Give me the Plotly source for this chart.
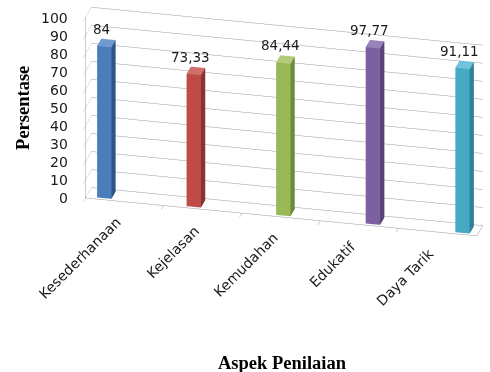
import plotly.graph_objects as go

# Data
categories = ["Kesederhanaan", "Kejelasan", "Kemudahan", "Edukatif", "Daya Tarik"]
values = [84, 73.33, 84.44, 97.77, 91.11]
value_labels = ["84", "73,33", "84,44", "97,77", "91,11"]
z_ticks = [0, 10, 20, 30, 40, 50, 60, 70, 80, 90, 100]

# Office-style palette: front face, side face, top face
front_colors = ["#4A7EBB", "#BE4B48", "#98B954", "#7D60A0", "#46AAC5"]
side_colors = ["#2F5485", "#8A3331", "#6E8A3A", "#5A4477", "#2F8299"]
top_colors = ["#6F9AD0", "#D06E6B", "#B2CD7A", "#9A82BA", "#72C2D8"]

X_MIN, X_MAX = -0.2, 4.17
Y_MIN, Y_MAX = 0.0, 1.0
HALF_W = 0.08
DEPTH = (0.15, 0.85)

GRID = "#9C9C9C"
TEXT_FONT = "DejaVu Sans"


def box_mesh(xc, height, front, side, top):
    x0, x1 = xc - HALF_W, xc + HALF_W
    y0, y1 = DEPTH
    z0, z1 = 0, height
    xs = [x0, x1, x1, x0, x0, x1, x1, x0]
    ys = [y0, y0, y1, y1, y0, y0, y1, y1]
    zs = [z0, z0, z0, z0, z1, z1, z1, z1]
    tris = [
        (0, 1, 5), (0, 5, 4),   # front
        (1, 2, 6), (1, 6, 5),   # right side
        (4, 5, 6), (4, 6, 7),   # top
        (2, 3, 7), (2, 7, 6),   # back
        (3, 0, 4), (3, 4, 7),   # left side
        (0, 3, 2), (0, 2, 1),   # bottom
    ]
    cols = [front, front, side, side, top, top, side, side, side, side, side, side]
    return go.Mesh3d(
        x=xs, y=ys, z=zs,
        i=[t[0] for t in tris], j=[t[1] for t in tris], k=[t[2] for t in tris],
        facecolor=cols, flatshading=True,
        lighting=dict(ambient=1, diffuse=0, specular=0, roughness=1, fresnel=0),
        hoverinfo="skip", showscale=False,
    )


fig = go.Figure()
for idx, v in enumerate(values):
    fig.add_trace(box_mesh(idx, v, front_colors[idx], side_colors[idx], top_colors[idx]))

# category slots along the floor's front edge
n = len(categories)
slot = (X_MAX - X_MIN) / n
slot_centers = [X_MIN + slot * (k + 0.5) for k in range(n)]
slot_edges = [X_MIN + slot * k for k in range(1, n)]

annotations = []
for v, lab, idx in zip(values, value_labels, range(n)):
    annotations.append(dict(
        x=idx, y=DEPTH[0], z=v, text=lab, showarrow=False,
        xanchor="center", yanchor="bottom", yshift=8, xshift=-3,
        font=dict(family=TEXT_FONT, size=13.5, color="#1a1a1a"),
    ))
for t in z_ticks:
    annotations.append(dict(
        x=X_MIN, y=Y_MIN, z=t, text=str(t), showarrow=False,
        xanchor="right", yanchor="middle", xshift=-15,
        font=dict(family=TEXT_FONT, size=14, color="#1a1a1a"),
    ))
for c, name in zip(slot_centers, categories):
    annotations.append(dict(
        x=c, y=Y_MIN, z=0, text=name, showarrow=False, textangle=-45,
        xanchor="right", yanchor="top", yshift=-10, xshift=2,
        font=dict(family=TEXT_FONT, size=14, color="#1a1a1a"),
    ))

axis_common = dict(
    showbackground=False, showspikes=False, zeroline=False,
    showticklabels=False, title=dict(text=""),
    showline=True, linecolor=GRID, linewidth=1,
)

fig.update_layout(
    width=490, height=372,
    margin=dict(l=0, r=0, t=0, b=0),
    paper_bgcolor="white",
    showlegend=False,
    scene=dict(
        domain=dict(x=[0, 1], y=[0, 1]),
        xaxis=dict(range=[X_MIN, X_MAX], showgrid=False, ticks="outside",
                   tickvals=slot_edges, ticklen=6, tickcolor=GRID, **axis_common),
        yaxis=dict(range=[Y_MIN, Y_MAX], showgrid=False, ticks="", **axis_common),
        zaxis=dict(range=[0, 100], tickvals=z_ticks, showgrid=True, gridcolor=GRID,
                   gridwidth=1, ticks="outside", ticklen=4, tickcolor=GRID, **axis_common),
        aspectmode="manual",
        aspectratio=dict(x=2.163, y=0.14, z=1.062),
        camera=dict(
            projection=dict(type="orthographic"),
            up=dict(x=0, y=0, z=1),
            center=dict(x=-0.174, y=-0.178, z=-0.320),
            eye=dict(x=0.255, y=-1.981, z=0.507),
        ),
        annotations=annotations,
    ),
    annotations=[
        dict(text="Persentase", x=0.047, y=0.71, xref="paper", yref="paper",
             xanchor="center", yanchor="middle",
             showarrow=False, textangle=-90,
             font=dict(family="Liberation Serif", size=18.5, color="black", weight="bold")),
        dict(text="Aspek Penilaian", x=0.576, y=0.024, xref="paper", yref="paper",
             xanchor="center", yanchor="middle",
             showarrow=False,
             font=dict(family="Liberation Serif", size=18.5, color="black", weight="bold")),
    ],
)

fig.write_html("out.html", config=dict(displayModeBar=False))
